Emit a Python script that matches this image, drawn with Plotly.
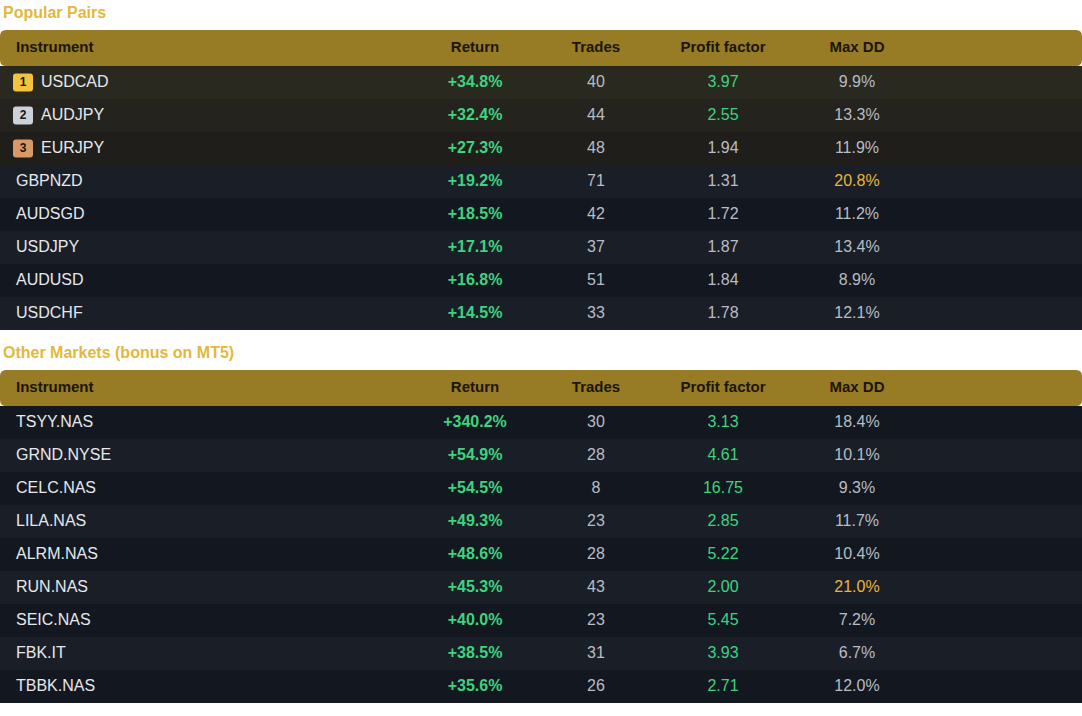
import plotly.graph_objects as go

columns = ["Instrument", "Return", "Trades", "Profit factor", "Max DD"]

pairs_names = ["USDCAD", "AUDJPY", "EURJPY", "GBPNZD", "AUDSGD", "USDJPY", "AUDUSD", "USDCHF"]
pairs_return = [34.8, 32.4, 27.3, 19.2, 18.5, 17.1, 16.8, 14.5]
pairs_trades = [40, 44, 48, 71, 42, 37, 51, 33]
pairs_pf = [3.97, 2.55, 1.94, 1.31, 1.72, 1.87, 1.84, 1.78]
pairs_dd = [9.9, 13.3, 11.9, 20.8, 11.2, 13.4, 8.9, 12.1]

other_names = ["TSYY.NAS", "GRND.NYSE", "CELC.NAS", "LILA.NAS", "ALRM.NAS", "RUN.NAS", "SEIC.NAS", "FBK.IT", "TBBK.NAS"]
other_return = [340.2, 54.9, 54.5, 49.3, 48.6, 45.3, 40.0, 38.5, 35.6]
other_trades = [30, 28, 8, 23, 28, 43, 23, 31, 26]
other_pf = [3.13, 4.61, 16.75, 2.85, 5.22, 2.00, 5.45, 3.93, 2.71]
other_dd = [18.4, 10.1, 9.3, 11.7, 10.4, 21.0, 7.2, 6.7, 12.0]

W, H = 1082, 716
GOLD = "#977b25"
TITLE = "#e2b83e"
GREEN = "#3ed37f"
WHITE = "#e6e8ec"
GREY = "#b8bcc4"
YEL = "#e9b43c"
COLX = {"Return": 475, "Trades": 596, "Profit factor": 723, "Max DD": 857}
ROWH = 33
FONT = "Liberation Sans, Arial, sans-serif"

fig = go.Figure()
shapes = []

def rrect(x0, y0, x1, y1, r):
    return (f"M{x0+r},{y0} L{x1-r},{y0} Q{x1},{y0} {x1},{y0+r} L{x1},{y1-r} Q{x1},{y1} {x1-r},{y1} "
            f"L{x0+r},{y1} Q{x0},{y1} {x0},{y1-r} L{x0},{y0+r} Q{x0},{y0} {x0+r},{y0} Z")

def section(title, title_y, head_top, names, ret, trades, pf, dd, ranks):
    fig.add_trace(go.Scatter(x=[3], y=[title_y], mode="text", text=[f"<b>{title}</b>"],
                             textposition="middle right", textfont=dict(color=TITLE, size=16, family=FONT),
                             hoverinfo="skip"))
    shapes.append(dict(type="path", path=rrect(0, head_top, W, head_top + 36, 6), fillcolor=GOLD, line_width=0, layer="below"))
    hy = head_top + 18
    fig.add_trace(go.Scatter(x=[16], y=[hy], mode="text", text=["<b>Instrument</b>"], textposition="middle right",
                             textfont=dict(color="#1a1608", size=15, family=FONT), hoverinfo="skip"))
    fig.add_trace(go.Scatter(x=list(COLX.values()), y=[hy] * 4, mode="text", text=[f"<b>{c}</b>" for c in COLX],
                             textposition="middle center", textfont=dict(color="#1a1608", size=15, family=FONT), hoverinfo="skip"))
    top = head_top + 36
    ys = []
    for i in range(len(names)):
        y0 = top + i * ROWH
        ys.append(y0 + ROWH / 2)
        if i < ranks:
            col = ["#2a2920", "#24231d", "#1f1e1a"][i]
        else:
            col = "#1a1f27" if i % 2 == 1 else "#131820"
        shapes.append(dict(type="rect", x0=0, x1=W, y0=y0, y1=y0 + ROWH, fillcolor=col, line_width=0, layer="below"))
    badge_cols = ["#f3c23e", "#cbd2dc", "#d99868"]
    for i in range(ranks):
        shapes.append(dict(type="path", path=rrect(13, ys[i] - 9, 33, ys[i] + 9, 3), fillcolor=badge_cols[i], line_width=0, layer="below"))
    if ranks:
        fig.add_trace(go.Scatter(x=[23] * ranks, y=ys[:ranks], mode="text", text=[f"<b>{k+1}</b>" for k in range(ranks)],
                                 textposition="middle center", textfont=dict(color="#1a1608", size=12, family=FONT), hoverinfo="skip"))
    nx = [41 if i < ranks else 16 for i in range(len(names))]
    fig.add_trace(go.Scatter(x=nx, y=ys, mode="text", text=names, textposition="middle right",
                             textfont=dict(color=WHITE, size=16, family=FONT), hoverinfo="skip"))
    fig.add_trace(go.Scatter(x=[COLX["Return"]] * len(ys), y=ys, mode="text", text=[f"<b>+{v:.1f}%</b>" for v in ret],
                             textposition="middle center", textfont=dict(color=GREEN, size=16, family=FONT), hoverinfo="skip"))
    fig.add_trace(go.Scatter(x=[COLX["Trades"]] * len(ys), y=ys, mode="text", text=[str(v) for v in trades],
                             textposition="middle center", textfont=dict(color=GREY, size=16, family=FONT), hoverinfo="skip"))
    fig.add_trace(go.Scatter(x=[COLX["Profit factor"]] * len(ys), y=ys, mode="text", text=[f"{v:.2f}" for v in pf],
                             textposition="middle center",
                             textfont=dict(color=[GREEN if v >= 2 else GREY for v in pf], size=16, family=FONT), hoverinfo="skip"))
    fig.add_trace(go.Scatter(x=[COLX["Max DD"]] * len(ys), y=ys, mode="text", text=[f"{v:.1f}%" for v in dd],
                             textposition="middle center",
                             textfont=dict(color=[YEL if v >= 20 else GREY for v in dd], size=16, family=FONT), hoverinfo="skip"))

section("Popular Pairs", 14, 30, pairs_names, pairs_return, pairs_trades, pairs_pf, pairs_dd, 3)
section("Other Markets (bonus on MT5)", 354, 370, other_names, other_return, other_trades, other_pf, other_dd, 0)

fig.update_layout(width=W, height=H, margin=dict(l=0, r=0, t=0, b=0), showlegend=False,
                  paper_bgcolor="white", plot_bgcolor="white", shapes=shapes,
                  xaxis=dict(range=[0, W], visible=False, fixedrange=True),
                  yaxis=dict(range=[H, 0], visible=False, fixedrange=True))
fig.write_html("out.html", config={"displayModeBar": False},
               post_script="document.body.style.margin='0';document.body.style.overflow='hidden';")
